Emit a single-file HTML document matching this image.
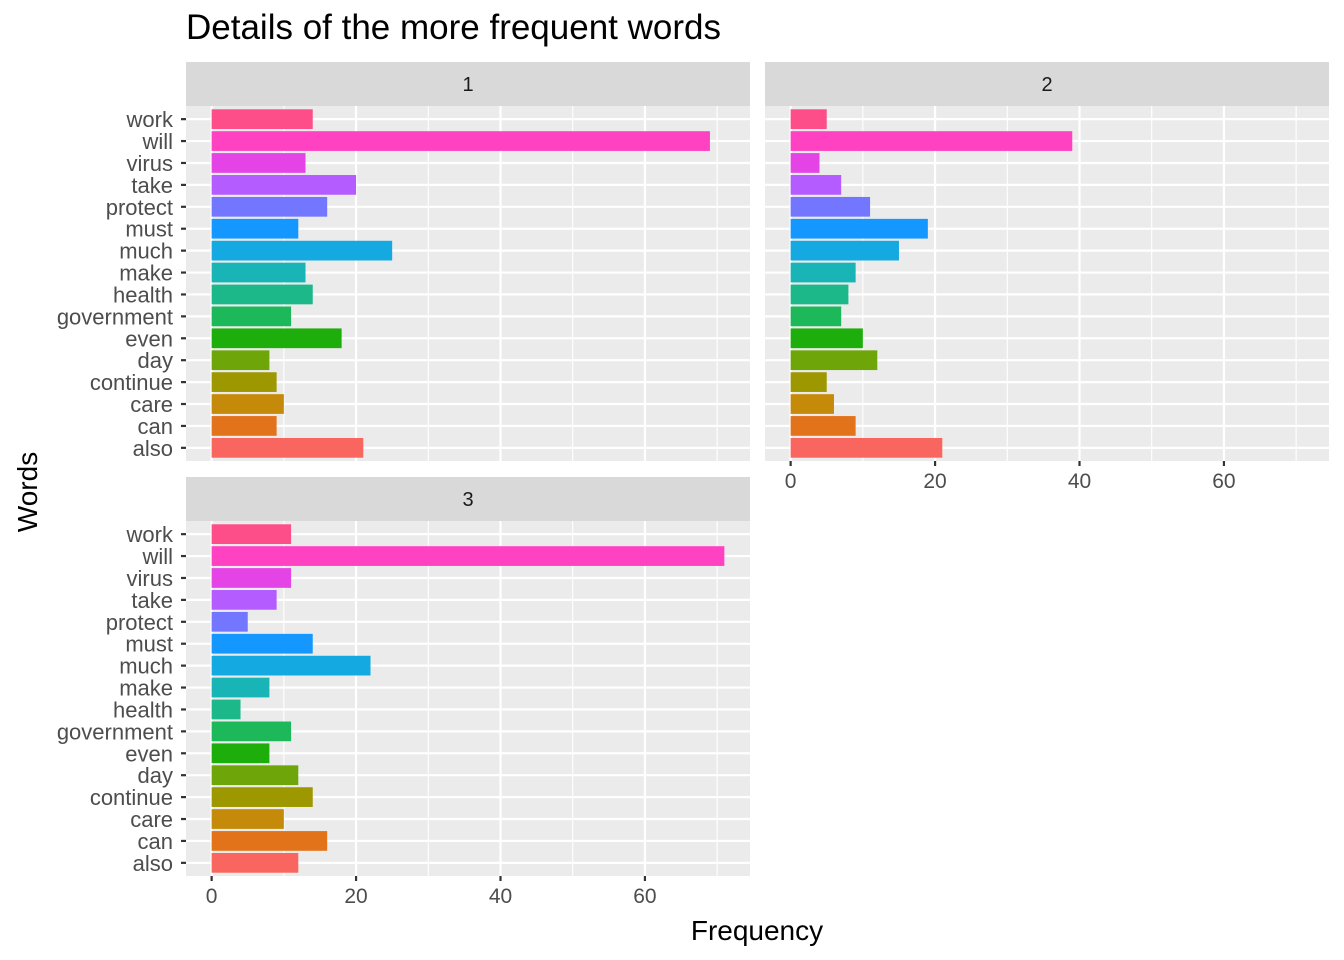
<!DOCTYPE html>
<html><head><meta charset="utf-8"><style>
body{margin:0;background:#fff}
svg{display:block;font-family:"Liberation Sans",Arial,sans-serif}
</style></head><body>
<svg id="chart" width="1344" height="960" viewBox="0 0 1344 960">
<rect width="1344" height="960" fill="#fff"/>
<text x="186" y="39" font-size="35" fill="#000">Details of the more frequent words</text>
<text x="757" y="940" font-size="28" text-anchor="middle" fill="#000">Frequency</text>
<text transform="translate(37,492) rotate(-90)" font-size="28" text-anchor="middle" fill="#000">Words</text>
<g id="panels"></g>
</svg>
<script>
const categories=["also","can","care","continue","day","even","government","health","make","much","must","protect","take","virus","will","work"];
const series1=[21,9,10,9,8,18,11,14,13,25,12,16,20,13,69,14];
const series2=[21,9,6,5,12,10,7,8,9,15,19,11,7,4,39,5];
const series3=[12,16,10,14,12,8,11,4,8,22,14,5,9,11,71,11];
const xTicks=[0,20,40,60];
const colors=["#F8665F","#E2731A","#C68A0A","#9E9800","#6EA60A","#1DAE0C","#1CB85A","#1CB88A","#19B4B6","#14A9E0","#1497FF","#7377FF","#B45CFF","#E444E6","#FE42C1","#FD4E8A"];
const NS="http://www.w3.org/2000/svg";
const root=document.getElementById('panels');
function mk(tag,attrs,parent){const e=document.createElementNS(NS,tag);for(const k in attrs)e.setAttribute(k,attrs[k]);(parent||root).appendChild(e);return e;}
const xmin=-3.55,xmax=74.55;
function drawPanel(label,vals,x0,x1,y0,y1,showY,showX,key){
  const g=mk('g',{});
  
  
  const sx=v=>x0+(v-xmin)/(xmax-xmin)*(x1-x0);
  const n=categories.length;
  const sy=i=>y1-((i+1)-0.4)/(n+0.2)*(y1-y0);
  const strip=mk('rect',{x:x0,y:y0-44,width:x1-x0,height:44,fill:'#D9D9D9'},g);
  
  
  const st=mk('text',{x:(x0+x1)/2,y:y0-15,'font-size':20,'text-anchor':'middle',fill:'#1A1A1A'},g);
  st.textContent=label;
  
  
  mk('rect',{x:x0,y:y0,width:x1-x0,height:y1-y0,fill:'#EBEBEB'},g);
  [10,30,50,70].forEach(v=>mk('line',{x1:sx(v),x2:sx(v),y1:y0,y2:y1,stroke:'#fff','stroke-width':1.1},g));
  xTicks.forEach(v=>mk('line',{x1:sx(v),x2:sx(v),y1:y0,y2:y1,stroke:'#fff','stroke-width':2.2},g));
  categories.forEach((c,i)=>mk('line',{x1:x0,x2:x1,y1:sy(i),y2:sy(i),stroke:'#fff','stroke-width':2.2},g));
  const bh=0.9*(y1-y0)/(n+0.2);
  vals.forEach((v,i)=>{
    const r=mk('rect',{x:sx(0),y:sy(i)-bh/2,width:sx(v)-sx(0),height:bh,fill:colors[i]},g);
    
    
  });
  if(showY){categories.forEach((c,i)=>{
    mk('line',{x1:x0-5,x2:x0,y1:sy(i),y2:sy(i),stroke:'#333','stroke-width':2.2},g);
    const t=mk('text',{x:x0-13,y:sy(i)+8,'font-size':22,'text-anchor':'end',fill:'#4D4D4D'},g);
    t.textContent=c;
    
    
  });}
  if(showX){xTicks.forEach(v=>{
    mk('line',{x1:sx(v),x2:sx(v),y1:y1,y2:y1+5,stroke:'#333','stroke-width':2.2},g);
    const t=mk('text',{x:sx(v),y:y1+27,'font-size':21,'text-anchor':'middle',fill:'#4D4D4D'},g);
    t.textContent=v;
    
    
  });}
}
drawPanel('1',series1,186,750,106,461,true,false,'1');
drawPanel('2',series2,765,1329,106,461,false,true,'2');
drawPanel('3',series3,186,750,521,876,true,true,'3');
</script>
</body></html>
